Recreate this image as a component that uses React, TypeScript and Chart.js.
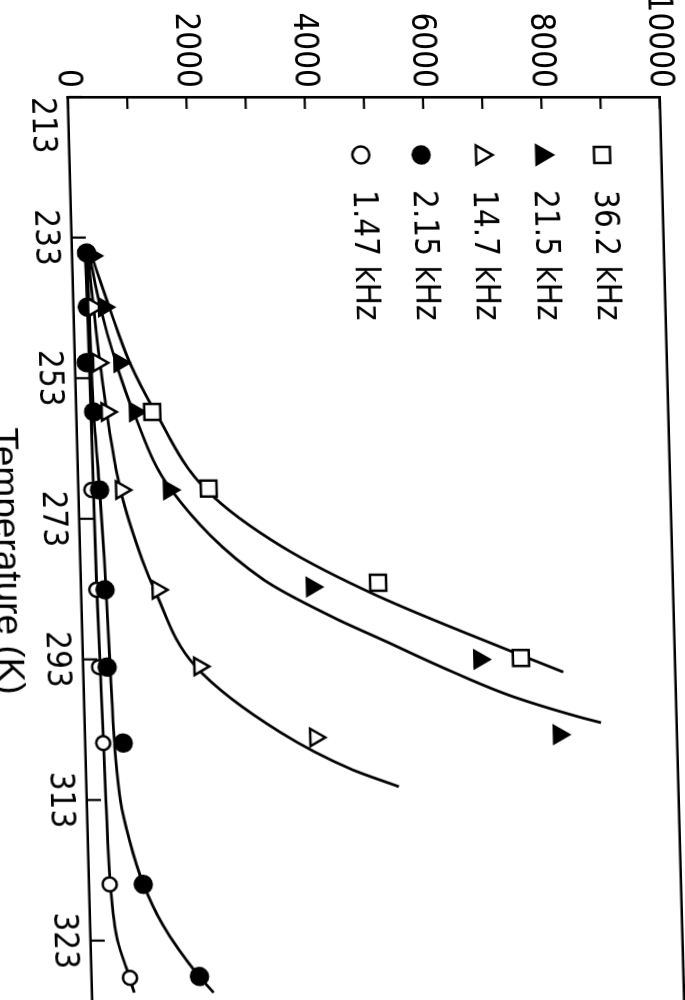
import React, { useEffect, useRef } from 'react';
import { Chart, registerables } from 'chart.js';

Chart.register(...registerables);

// ---------- data ----------
const tempTickValues = [213, 233, 253, 273, 293, 313, 333];
const tempTickLabels = ['213', '233', '253', '273', '293', '313', '323'];
const valueTickStep = 1000;

const seriesNames = ['36.2 kHz', '21.5 kHz', '14.7 kHz', '2.15 kHz', '1.47 kHz'];

// measured points (markers)
const t362 = [257.8, 268.7, 282.1, 292.8];
const v362 = [1280, 2200, 5020, 7400];
const t215k = [235.6, 242.9, 250.8, 257.8, 268.9, 282.7, 293.0, 303.7];
const v215k = [330, 510, 750, 990, 1530, 3900, 6700, 8010];
const t147k = [242.9, 250.8, 257.8, 268.9, 283.1, 294.0, 304.1];
const v147k = [330, 390, 510, 720, 1290, 1960, 3890];
const t2_15 = [235.2, 242.9, 250.8, 257.8, 268.9, 283.1, 294.1, 304.9, 325.0, 338.1];
const v2_15 = [245, 230, 190, 290, 355, 400, 400, 640, 915, 1820];
const t1_47 = [268.9, 283.1, 294.1, 304.9, 325.0, 338.3];
const v1_47 = [215, 255, 265, 300, 345, 645];

// fitted curves
const fitT362 = [234.8, 242.9, 250.8, 257.8, 268.9, 277.0, 284.0, 292.4, 294.8];
const fitV362 = [297, 602, 924, 1331, 2160, 3420, 5013, 7402, 8111];
const fitT215k = [235.7, 242.9, 250.8, 257.8, 268.9, 281.7, 287.0, 290.2, 294.5, 298.3, 301.2, 302.0];
const fitV215k = [296, 450, 689, 961, 1565, 3092, 4240, 5062, 6164, 7250, 8361, 8726];
const fitT147k = [235.2, 250.8, 268.9, 278.8, 283.1, 294.0, 303.4, 308.7, 311.1];
const fitV147k = [262, 420, 708, 1042, 1237, 1897, 3306, 4502, 5279];
const fitT2_15 = [235.2, 244.7, 257.8, 268.9, 278.8, 294.0, 304.9, 313.0, 318.7, 325.0, 330.7, 338.1, 340.4];
const fitV2_15 = [245, 262, 289, 355, 403, 452, 491, 563, 699, 916, 1220, 1817, 2055];
const fitT1_47 = [235.2, 246.1, 257.8, 268.9, 283.1, 294.0, 304.9, 313.0, 325.3, 332.9, 338.3, 340.4];
const fitV1_47 = [220, 235, 245, 250, 262, 284, 306, 320, 360, 452, 640, 711];

// ---------- layout (original, un-rotated orientation) ----------
const W = 1040;
const H = 723;
const AXIS_LEFT = 97;
const AXIS_BOTTOM = 617;
const AREA_TOP = 22;
const T_MIN = 213;
const T_MAX = 345;
const PX_PER_K = 7.033;
const SHEAR = 0.027;

const NARROW = "'Liberation Sans Narrow', 'DejaVu Sans Condensed', 'Liberation Sans', sans-serif";

const pts = (t: number[], v: number[]) => t.map((x, i) => ({ x, y: v[i] }));

type MarkerStyle = { style: 'rect' | 'triangle' | 'circle'; filled: boolean };
const markerStyles: MarkerStyle[] = [
  { style: 'rect', filled: false },
  { style: 'triangle', filled: true },
  { style: 'triangle', filled: false },
  { style: 'circle', filled: true },
  { style: 'circle', filled: false },
];

function drawMarker(ctx: CanvasRenderingContext2D, m: MarkerStyle, x: number, y: number) {
  ctx.beginPath();
  if (m.style === 'rect') {
    const s = 8;
    ctx.rect(x - s, y - s, 2 * s, 2 * s);
  } else if (m.style === 'triangle') {
    const r = 11;
    ctx.moveTo(x, y - r);
    ctx.lineTo(x + 0.866 * r, y + 0.5 * r);
    ctx.lineTo(x - 0.866 * r, y + 0.5 * r);
    ctx.closePath();
  } else {
    ctx.arc(x, y, 8.5, 0, Math.PI * 2);
  }
  ctx.fillStyle = m.filled ? '#000' : '#fff';
  ctx.fill();
  ctx.lineWidth = 2.5;
  ctx.strokeStyle = '#000';
  ctx.stroke();
}

const innerTicks = {
  id: 'innerTicks',
  afterDatasetsDraw(chart: any) {
    const { ctx, chartArea, scales } = chart;
    ctx.save();
    ctx.strokeStyle = '#000';
    ctx.lineWidth = 2.2;
    const xs = scales.x;
    xs.ticks.forEach((t: any) => {
      const px = xs.getPixelForValue(t.value);
      ctx.beginPath();
      ctx.moveTo(px, chartArea.bottom);
      ctx.lineTo(px, chartArea.bottom - 14);
      ctx.stroke();
    });
    const ys = scales.y;
    ys.ticks.forEach((t: any) => {
      const py = ys.getPixelForValue(t.value);
      ctx.beginPath();
      ctx.moveTo(chartArea.left, py);
      ctx.lineTo(chartArea.left + 12, py);
      ctx.stroke();
    });
    ctx.restore();
  },
};

const innerLegend = {
  id: 'innerLegend',
  afterDraw(chart: any) {
    const { ctx, chartArea } = chart;
    ctx.save();
    seriesNames.forEach((name, i) => {
      const y = chartArea.top + 59 + i * 60.3;
      drawMarker(ctx, markerStyles[i], chartArea.left + 58, y);
      ctx.fillStyle = '#000';
      ctx.font = `33px ${NARROW}`;
      ctx.textAlign = 'left';
      ctx.textBaseline = 'middle';
      ctx.fillText(name, chartArea.left + 93, y);
    });
    ctx.restore();
  },
};

export default function App() {
  const ref = useRef<HTMLCanvasElement | null>(null);

  useEffect(() => {
    if (!ref.current) return;
    const markerSets = [
      pts(t362, v362),
      pts(t215k, v215k),
      pts(t147k, v147k),
      pts(t2_15, v2_15),
      pts(t1_47, v1_47),
    ];
    const fitSets = [
      pts(fitT362, fitV362),
      pts(fitT215k, fitV215k),
      pts(fitT147k, fitV147k),
      pts(fitT2_15, fitV2_15),
      pts(fitT1_47, fitV1_47),
    ];
    const radii = [11.3, 10, 10, 8.5, 7];
    const datasets: any[] = [];
    markerSets.forEach((data, i) => {
      datasets.push({
        label: seriesNames[i],
        data,
        showLine: false,
        pointStyle: markerStyles[i].style,
        pointRadius: radii[i],
        pointBackgroundColor: markerStyles[i].filled ? '#000' : '#fff',
        pointBorderColor: '#000',
        pointBorderWidth: 2.5,
      });
    });
    fitSets.forEach((data, i) => {
      datasets.push({
        label: seriesNames[i] + ' fit',
        data,
        showLine: true,
        pointRadius: 0,
        borderColor: '#000',
        borderWidth: 2.8,
        fill: false,
        cubicInterpolationMode: 'monotone',
      });
    });

    const areaWidth = (T_MAX - T_MIN) * PX_PER_K;
    const chart = new Chart(ref.current, {
      type: 'scatter',
      data: { datasets },
      plugins: [innerTicks, innerLegend],
      options: {
        responsive: false,
        maintainAspectRatio: false,
        animation: false,
        events: [],
        layout: { padding: { left: 0, right: W - AXIS_LEFT - areaWidth, top: AREA_TOP, bottom: 0 } },
        plugins: { legend: { display: false }, tooltip: { enabled: false } },
        scales: {
          x: {
            type: 'linear',
            position: 'bottom',
            min: T_MIN,
            max: T_MAX,
            afterBuildTicks: (s: any) => {
              s.ticks = [...tempTickValues, T_MAX].map((value) => ({ value }));
            },
            afterFit: (s: any) => {
              s.height = H - AXIS_BOTTOM;
            },
            ticks: {
              autoSkip: false,
              maxRotation: 0,
              minRotation: 0,
              align: 'inner',
              padding: 11,
              color: '#000',
              font: { family: NARROW, size: 33, lineHeight: 1 },
              callback: (_v: any, i: number) => tempTickLabels[i] ?? '',
            },
            grid: { display: true, drawOnChartArea: false, drawTicks: false, color: 'rgba(0,0,0,0)' },
            border: { display: true, color: '#000', width: 2.6 },
            title: {
              display: true,
              text: 'Temperature (K)',
              color: '#000',
              font: { family: "'Liberation Sans', sans-serif", size: 37 },
              padding: { top: 0, bottom: 9 },
            },
          },
          y: {
            type: 'linear',
            min: 0,
            max: 10000,
            afterFit: (s: any) => {
              s.width = AXIS_LEFT;
            },
            ticks: {
              stepSize: valueTickStep,
              autoSkip: false,
              padding: 9,
              color: '#000',
              font: { family: NARROW, size: 33, lineHeight: 1 },
              callback: (v: any) => (Number(v) % 2000 === 0 ? String(v) : ''),
            },
            grid: {
              drawTicks: false,
              lineWidth: 2.6,
              color: (c: any) => (c.tick && c.tick.value === 10000 ? '#000' : 'rgba(0,0,0,0)'),
            },
            border: { display: true, color: '#000', width: 2.6 },
          },
        },
      } as any,
    });
    return () => chart.destroy();
  }, []);

  const e = 685 - AXIS_LEFT * SHEAR;
  return (
    <div
      style={{
        position: 'fixed',
        left: 0,
        top: 0,
        width: 685,
        height: 1000,
        overflow: 'hidden',
        background: '#fff',
      }}
    >
      <div
        style={{
          position: 'absolute',
          left: 0,
          top: 0,
          width: W,
          height: H,
          transformOrigin: '0 0',
          transform: `matrix(${SHEAR}, 1, -1, 0, ${e}, 0)`,
        }}
      >
        <canvas ref={ref} width={W} height={H} style={{ display: 'block', width: W, height: H }} />
      </div>
    </div>
  );
}
